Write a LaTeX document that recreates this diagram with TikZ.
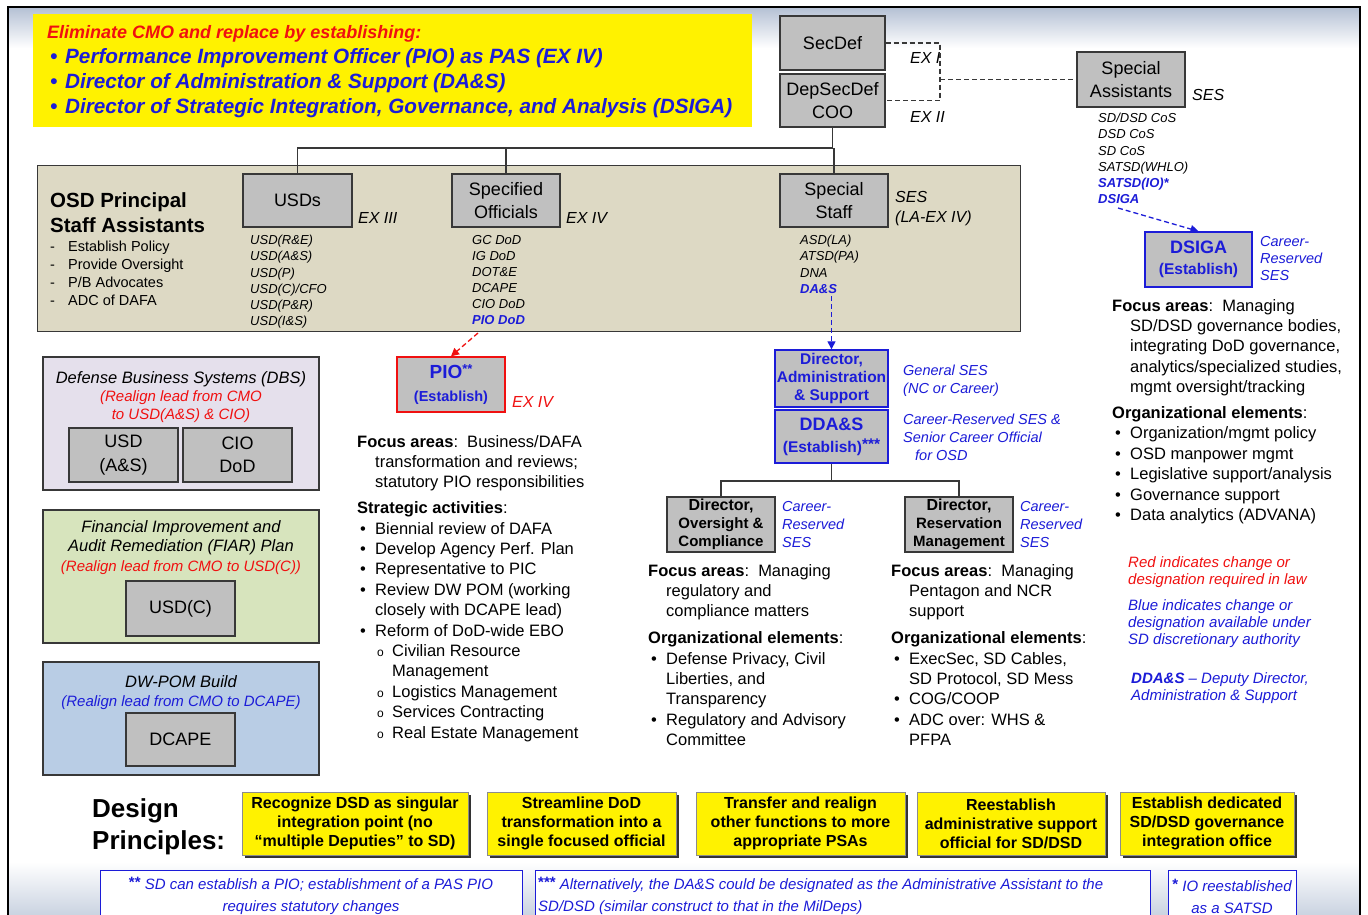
\documentclass[tikz,border=0pt]{standalone}
\usepackage{fontspec}
\setmainfont{Liberation Sans}
\usetikzlibrary{arrows.meta,shadows}
\definecolor{boxgray}{HTML}{C0C0C0}
\definecolor{tanfill}{HTML}{DDD9C4}
\definecolor{lavfill}{HTML}{E5E0EC}
\definecolor{greenfill}{HTML}{D7E4BD}
\definecolor{bluefill}{HTML}{B9CDE5}
\definecolor{tblue}{HTML}{1C1CD8}
\definecolor{tred}{HTML}{F01010}
\definecolor{edgec}{HTML}{383838}
\definecolor{bgtop}{HTML}{B4C0D4}
\newcommand\fsz[2]{\fontsize{#1}{#2}\selectfont}
\newcommand\bul{\makebox[18pt][l]{\hspace{3pt}•}}
\newcommand\sbul{\hspace*{20pt}\makebox[15pt][l]{\fontsize{12}{12}\selectfont o}}
\newcommand\ind{\hspace*{18pt}}
\newcommand\sind{\hspace*{35pt}}
\begin{document}
\begin{tikzpicture}[x=1pt,y=-1pt,
  gbox/.style={draw=edgec,fill=boxgray,line width=1.4,inner sep=0,align=center,font=\fsz{18}{23.5}},
  bbox/.style={draw=tblue,fill=boxgray,line width=1.4,inner sep=0,align=center,text=tblue,font=\bfseries\fsz{15.5}{18}},
  dbox/.style={draw=edgec,fill=boxgray,line width=1.4,inner sep=0,align=center,font=\bfseries\fsz{15}{18}},
  panel/.style={draw=edgec,line width=1.4,inner sep=0},
  tx/.style={inner sep=0,anchor=north west,align=left},
  ptitle/.style={inner sep=0,anchor=north,align=center},
  lst/.style={tx,font=\itshape\fsz{13}{16.1}},
  body/.style={tx,font=\fsz{16.5}{20.4}},
  lbl/.style={tx,font=\itshape\fsz{14.5}{18},text=tblue},
  exl/.style={inner sep=0,anchor=west,font=\itshape\fsz{16}{20}},
  conn/.style={draw=edgec,line width=1.3},
  dashc/.style={draw=edgec,line width=1.3,dash pattern=on 5pt off 3pt},
  darrow/.style={line width=1.3,dash pattern=on 5pt off 3pt,-{Triangle[width=8pt,length=8pt]}},
  ybox/.style={fill=yellow,draw=black!45,line width=1,inner sep=0,align=center,font=\bfseries\fsz{16}{19},drop shadow={shadow xshift=2.5pt,shadow yshift=-2.5pt,fill=black,opacity=0.8}},
  fbox/.style={draw=tblue,fill=white,line width=1.2,inner sep=0},
  ftx/.style={inner sep=0,anchor=north,align=center,font=\itshape\fsz{15}{22},text=tblue},
]
\useasboundingbox (0,0) rectangle (1368,915);
% background
\fill[white] (0,0) rectangle (1368,915);
\shade[top color=bgtop,bottom color=white] (8,7) rectangle (1360,48);
\shade[top color=white,bottom color=bgtop!70] (8,862) rectangle (1360,915);
\draw[line width=1.6,black] (8,917) -- (8,7) -- (1360,7) -- (1360,917);

% top yellow statement
\node[fill=yellow,inner sep=0,minimum width=719,minimum height=113,anchor=north west] (topbox) at (33,14) {};
\node[tx,font=\bfseries\itshape\fsz{20.7}{25},text=tblue] (toptxt) at (47,25.3)
 {{\fsz{18}{25}\color{tred}Eliminate CMO and replace by establishing:}\\
  \bul Performance Improvement Officer (PIO) as PAS (EX IV)\\
  \bul Director of Administration \& Support (DA\&S)\\
  \bul Director of Strategic Integration, Governance, and Analysis (DSIGA)};

% top leadership
\node[gbox,minimum width=105,minimum height=54] (secdef) at (832.5,43) {SecDef};
\node[gbox,minimum width=105,minimum height=53] (depsec) at (832.5,100.5) {DepSecDef\\COO};
\node[exl] (ex1) at (910,58) {EX I};
\node[exl] (ex2) at (910,117) {EX II};
\node[gbox,minimum width=108,minimum height=55] (specasst) at (1131,79.5) {Special\\Assistants};
\node[exl] (sesA) at (1192,95) {SES};
\node[lst] (salist) at (1098,113.2) {SD/DSD CoS\\DSD CoS\\SD CoS\\SATSD(WHLO)\\\textcolor{tblue}{\bfseries SATSD(IO)*}\\\textcolor{tblue}{\bfseries DSIGA}};
\coordinate (dj) at (940,79.5);
\draw[dashc] (secdef.east) -| (dj) |- (depsec.east);
\draw[dashc] (dj) -- (specasst.west);

% OSD PSA panel
\node[panel,fill=tanfill,minimum width=983,minimum height=166,anchor=north west] (osd) at (37,165) {};
\node[tx,font=\bfseries\fsz{20.5}{25}] (osdt) at (50,192.4) {OSD Principal\\Staff Assistants};
\node[tx,font=\fsz{14.5}{18}] (osdb) at (50,240.6)
 {\makebox[18pt][l]{-}Establish Policy\\\makebox[18pt][l]{-}Provide Oversight\\\makebox[18pt][l]{-}P/B Advocates\\\makebox[18pt][l]{-}ADC of DAFA};

\node[gbox,minimum width=109,minimum height=53] (usds) at (297.5,200.5) {USDs};
\node[exl] (ex3) at (358,218) {EX III};
\node[lst] (usdlist) at (250,235.2) {USD(R\&E)\\USD(A\&S)\\USD(P)\\USD(C)/CFO\\USD(P\&R)\\USD(I\&S)};

\node[gbox,minimum width=108,minimum height=53] (specoff) at (506,200.5) {Specified\\Officials};
\node[exl] (ex4) at (566,218) {EX IV};
\node[lst] (sollist) at (472,235.2) {GC DoD\\IG DoD\\DOT\&E\\DCAPE\\CIO DoD\\\textcolor{tblue}{\bfseries PIO DoD}};

\node[gbox,minimum width=108,minimum height=53] (specstaff) at (834,200.5) {Special\\Staff};
\node[tx,font=\itshape\fsz{16}{20}] (sesss) at (895,191) {SES\\(LA-EX IV)};
\node[lst] (sslist) at (800,235.2) {ASD(LA)\\ATSD(PA)\\DNA\\\textcolor{tblue}{\bfseries DA\&S}};

\coordinate (bus) at (832.5,148);
\draw[conn] (depsec.south) -- (bus);
\draw[conn] (usds.north) |- (bus);
\draw[conn] (specoff.north) -- (specoff.north |- bus);
\draw[conn] (specstaff.north) -- (specstaff.north |- bus);

% left panels
\node[panel,fill=lavfill,minimum width=276,minimum height=133] (dbs) at (181,423.5) {};
\node[ptitle,font=\itshape\fsz{16.5}{18}] (dbst) at (181,371)
 {Defense Business Systems (DBS)\\\color{tred}\fsz{15}{17.5}(Realign lead from CMO\\\color{tred}\fsz{15}{17.5}to USD(A\&S) \& CIO)};
\node[gbox,minimum width=109,minimum height=54] (usdas) at (123.5,455) {USD\\(A\&S)};
\node[gbox,minimum width=109,minimum height=54] (ciodod) at (237.5,455) {CIO\\DoD};

\node[panel,fill=greenfill,minimum width=276,minimum height=133] (fiar) at (181,576.5) {};
\node[ptitle,font=\itshape\fsz{16.5}{19.5}] (fiart) at (181,520)
 {Financial Improvement and\\Audit Remediation (FIAR) Plan\\\color{tred}\fsz{15}{19.5}(Realign lead from CMO to USD(C))};
\node[gbox,minimum width=109,minimum height=55] (usdc) at (180.5,608.5) {USD(C)};

\node[panel,fill=bluefill,minimum width=276,minimum height=113] (dwpom) at (181,718.5) {};
\node[ptitle,font=\itshape\fsz{16.5}{19.5}] (dwpomt) at (181,675)
 {DW-POM Build\\\color{tblue}\fsz{15}{19.5}(Realign lead from CMO to DCAPE)};
\node[gbox,minimum width=109,minimum height=53] (dcape) at (180.5,739.5) {DCAPE};

% PIO
\node[draw=tred,fill=boxgray,line width=1.4,inner sep=0,align=center,text=tblue,minimum width=108,minimum height=55,font=\bfseries\fsz{14.5}{23}] (pio) at (451,384.5)
 {{\fsz{19}{23}PIO\raisebox{5pt}{\fsz{13}{13}**}}\\(Establish)};
\node[exl,text=tred] (ex4b) at (512,402) {EX IV};
\coordinate (pioS) at (478,333);
\draw[darrow,tred] (pioS) -- (pio.north);

\node[body] (piotxt) at (357,434.9)
 {\textbf{Focus areas}:\ \ Business/DAFA\\
  \ind transformation and reviews;\\
  \ind statutory PIO responsibilities\\[5.5pt]
  \textbf{Strategic activities}:\\
  \bul Biennial review of DAFA\\
  \bul Develop Agency Perf. Plan\\
  \bul Representative to PIC\\
  \bul Review DW POM (working\\
  \ind closely with DCAPE lead)\\
  \bul Reform of DoD-wide EBO\\
  \sbul Civilian Resource\\
  \sind Management\\
  \sbul Logistics Management\\
  \sbul Services Contracting\\
  \sbul Real Estate Management};

% DA&S
\node[bbox,minimum width=113,minimum height=57] (diras) at (831.5,378.5) {Director,\\Administration\\\& Support};
\node[bbox,minimum width=113,minimum height=53,font=\bfseries\fsz{15.5}{22}] (ddas) at (831.5,436.5) {{\fsz{18}{22}DDA\&S}\\(Establish)\raisebox{3pt}{***}};
\coordinate (dasS) at (831.5,296);
\draw[darrow,tblue] (dasS) -- (diras.north);
\node[lbl] (dasl1) at (903,364.6) {General SES\\(NC or Career)};
\node[lbl] (dasl2) at (903,413.6) {Career-Reserved SES \&\\Senior Career Official\\\hspace*{12pt}for OSD};

\node[dbox,minimum width=108,minimum height=55] (diroc) at (721,524.5) {{\fsz{16}{18}Director,}\\Oversight \&\\Compliance};
\node[dbox,minimum width=108,minimum height=55] (dirrm) at (959,524.5) {{\fsz{16}{18}Director,}\\Reservation\\Management};
\coordinate (bus2) at (831.5,481);
\draw[conn] (ddas.south) -- (bus2);
\draw[conn] (diroc.north) |- (bus2);
\draw[conn] (dirrm.north) |- (bus2);
\node[lbl] (ocl) at (782,501.6) {Career-\\Reserved\\SES};
\node[lbl] (rml) at (1020,501.6) {Career-\\Reserved\\SES};

\node[body] (octxt) at (648,563.9)
 {\textbf{Focus areas}:\ \ Managing\\
  \ind regulatory and\\
  \ind compliance matters\\[6.5pt]
  \textbf{Organizational elements}:\\
  \bul Defense Privacy, Civil\\
  \ind Liberties, and\\
  \ind Transparency\\
  \bul Regulatory and Advisory\\
  \ind Committee};
\node[body] (rmtxt) at (891,563.9)
 {\textbf{Focus areas}:\ \ Managing\\
  \ind Pentagon and NCR\\
  \ind support\\[6.5pt]
  \textbf{Organizational elements}:\\
  \bul ExecSec, SD Cables,\\
  \ind SD Protocol, SD Mess\\
  \bul COG/COOP\\
  \bul ADC over: WHS \&\\
  \ind PFPA};

% DSIGA
\node[bbox,minimum width=107,minimum height=55,font=\bfseries\fsz{15.5}{21}] (dsiga) at (1198.5,259.5) {{\fsz{18}{21}DSIGA}\\(Establish)};
\coordinate (dsS) at (1118,208);
\draw[darrow,tblue] (dsS) -- (dsiga.north);
\node[lbl,font=\itshape\fsz{14.5}{17}] (dsl) at (1260,236.6) {Career-\\Reserved\\SES};
\node[body] (dstxt) at (1112,298.9)
 {\textbf{Focus areas}:\ \ Managing\\
  \ind SD/DSD governance bodies,\\
  \ind integrating DoD governance,\\
  \ind analytics/specialized studies,\\
  \ind mgmt oversight/tracking\\[5.5pt]
  \textbf{Organizational elements}:\\
  \bul Organization/mgmt policy\\
  \bul OSD manpower mgmt\\
  \bul Legislative support/analysis\\
  \bul Governance support\\
  \bul Data analytics (ADVANA)};

% legend
\node[tx,font=\itshape\fsz{15}{17},text=tred] (legr) at (1128,556.5) {Red indicates change or\\designation required in law};
\node[tx,font=\itshape\fsz{15}{17},text=tblue] (legb) at (1128,599.5) {Blue indicates change or\\designation available under\\SD discretionary authority};
\node[tx,font=\itshape\fsz{15}{17},text=tblue] (legd) at (1131,672.5) {\textbf{DDA\&S} -- Deputy Director,\\Administration \& Support};

% design principles
\node[tx,font=\bfseries\fsz{26}{32}] (dp) at (92,798.4) {Design\\Principles:};
\node[ybox,minimum width=226,minimum height=63] (dp1) at (355,823.5) {Recognize DSD as singular\\integration point (no\\“multiple Deputies” to SD)};
\node[ybox,minimum width=189,minimum height=63] (dp2) at (581.5,823.5) {Streamline DoD\\transformation into a\\single focused official};
\node[ybox,minimum width=209,minimum height=63] (dp3) at (800.5,823.5) {Transfer and realign\\other functions to more\\appropriate PSAs};
\node[ybox,minimum width=188,minimum height=63] (dp4) at (1011,823.5) {Reestablish\\administrative support\\official for SD/DSD};
\node[ybox,minimum width=174,minimum height=63] (dp5) at (1207,823.5) {Establish dedicated\\SD/DSD governance\\integration office};

% footnotes
\node[fbox,minimum width=422,minimum height=52,anchor=north west] (fn1) at (100,870) {};
\node[fbox,minimum width=615,minimum height=52,anchor=north west] (fn2) at (535,870) {};
\node[fbox,minimum width=128,minimum height=52,anchor=north west] (fn3) at (1168,870) {};
\node[ftx] (fn1t) at (311,876.5) {\raisebox{2pt}{\upshape\bfseries\fsz{15}{15}**} SD can establish a PIO; establishment of a PAS PIO\\requires statutory changes};
\node[ftx,anchor=north west,align=left] (fn2t) at (538,876.5) {\raisebox{2pt}{\upshape\bfseries\fsz{15}{15}***} Alternatively, the DA\&S could be designated as the Administrative Assistant to the\\SD/DSD (similar construct to that in the MilDeps)};
\node[ftx] (fn3t) at (1232,879) {\raisebox{2pt}{\upshape\bfseries\fsz{15}{15}*} IO reestablished\\as a SATSD};
\end{tikzpicture}
\end{document}
